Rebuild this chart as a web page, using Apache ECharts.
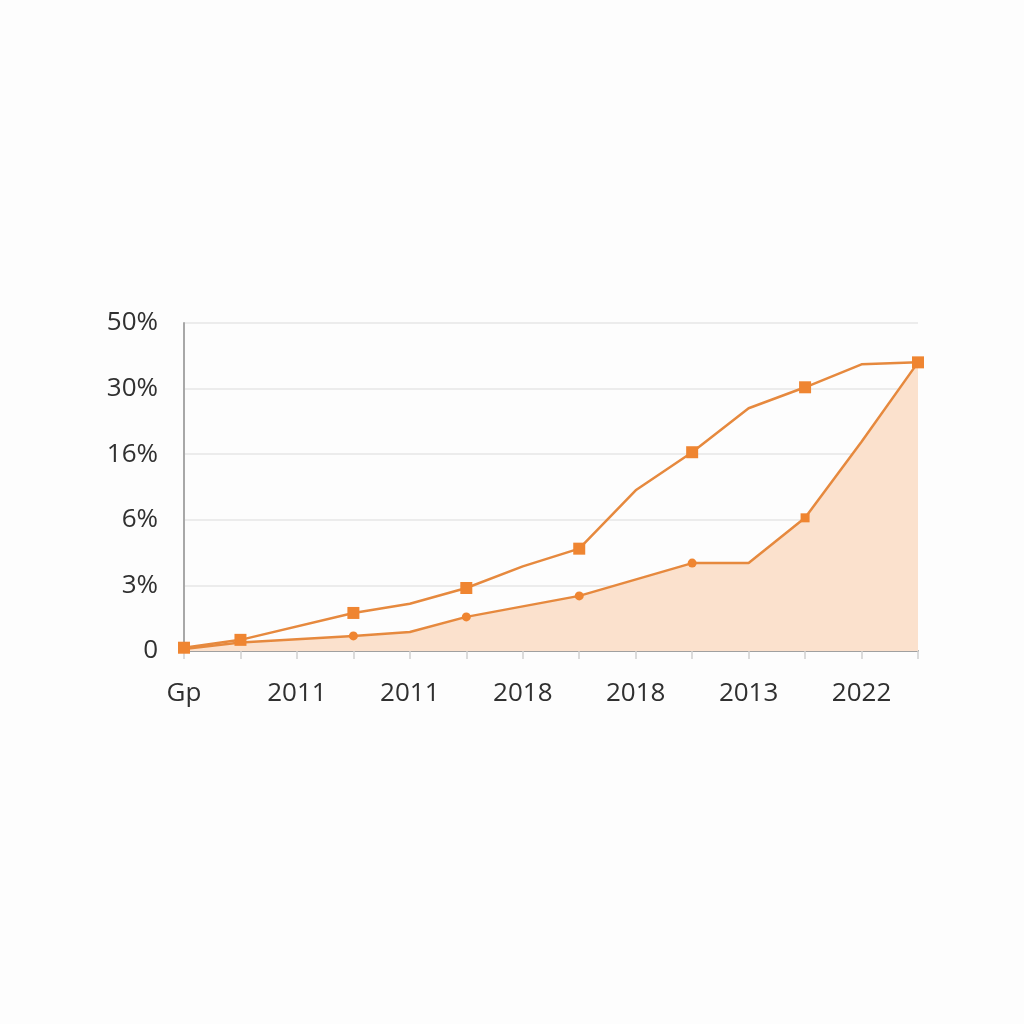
<!DOCTYPE html>
<html>
<head>
<meta charset="utf-8">
<script src="https://cdn.jsdelivr.net/npm/echarts@6/dist/echarts.min.js"></script>
<style>
html,body{margin:0;padding:0;background:#fdfdfd;}
#c{width:1024px;height:1024px;}
</style>
</head>
<body>
<div id="c"></div>
<script>
// x categories (tick positions); labels shown on even ticks
const xLabels = ['Gp','','2011','','2011','','2018','','2018','','2013','','2022',''];
// y tick labels (evenly spaced, index units)
const yTickLabels = ['0','3%','6%','16%','30%','50%'];
// upper line, values in y-tick index units (null = no vertex)
const upperValues = [0.05, 0.17, null, 0.58, 0.72, 0.96, 1.29, 1.56, 2.45, 3.03, 3.7, 4.02, 4.37, 4.4];
const upperMarked = [true, true, false, true, false, true, false, true, false, true, false, true, false, true];
// lower (area) line
const lowerValues = [0.03, 0.13, null, 0.23, 0.29, 0.52, null, 0.84, null, 1.34, 1.34, 2.03, 3.19, 4.4];
const lowerSymbols = ['none', 'none', 'none', 'circle', 'none', 'circle', 'none', 'circle', 'none', 'circle', 'none', 'rect', 'none', 'none'];

const lineColor = '#e6893e';
const markColor = '#ef8531';

const chart = echarts.init(document.getElementById('c'), null, {renderer: 'canvas'});
chart.setOption({
  backgroundColor: '#fdfdfd',
  animation: false,
  grid: {left: 184, right: 106, top: 323, bottom: 373, containLabel: false},
  xAxis: {
    type: 'category',
    data: xLabels,
    boundaryGap: false,
    axisLine: {lineStyle: {color: '#a0a0a0', width: 2}},
    axisTick: {show: true, interval: 0, length: 8, lineStyle: {color: '#cfcfcf', width: 1.5}},
    axisLabel: {interval: 0, margin: 30, color: '#303030', fontSize: 26, fontFamily: 'Open Sans'},
    splitLine: {show: false}
  },
  yAxis: {
    type: 'value',
    min: 0, max: 5, interval: 1,
    axisLine: {show: true, lineStyle: {color: '#a8a8a8', width: 2}},
    axisTick: {show: false},
    axisLabel: {
      margin: 26, color: '#303030', fontSize: 26, fontFamily: 'Open Sans',
      formatter: v => yTickLabels[Math.round(v)]
    },
    splitLine: {show: true, lineStyle: {color: '#e6e6e6', width: 1.5}}
  },
  series: [
    {
      type: 'line',
      data: lowerValues.map((v, i) => ({value: v, symbol: lowerSymbols[i], symbolSize: 9})),
      connectNulls: true,
      lineStyle: {color: lineColor, width: 2.5},
      itemStyle: {color: markColor},
      areaStyle: {color: '#fbe1cd', opacity: 1},
      z: 2
    },
    {
      type: 'line',
      data: upperValues.map((v, i) => ({value: v, symbol: upperMarked[i] ? 'rect' : 'none', symbolSize: 12})),
      connectNulls: true,
      lineStyle: {color: lineColor, width: 2.5},
      itemStyle: {color: markColor},
      z: 3
    }
  ]
});
</script>
</body>
</html>
